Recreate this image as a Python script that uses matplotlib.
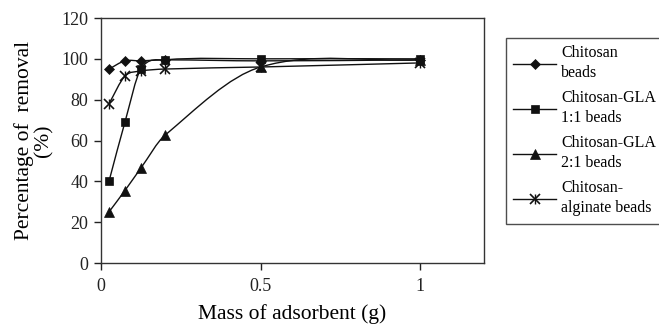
import numpy as np
import matplotlib.pyplot as plt
from matplotlib.path import Path
from matplotlib.patches import PathPatch
from matplotlib.lines import Line2D

plt.rcParams['font.family'] = ['Liberation Serif', 'DejaVu Serif']

# data
mass = [0.025, 0.075, 0.125, 0.2, 0.5, 1.0]
chitosan = [95, 99, 99, 99.5, 99, 99.5]
gla_11 = [40, 69, 95, 99.5, 100, 100]
gla_21 = [25, 35.5, 46.5, 62.5, 96, 99.5]
alginate = [78, 91.5, 94, 95, 96, 98]

labels = ['Chitosan\nbeads', 'Chitosan-GLA\n1:1 beads', 'Chitosan-GLA\n2:1 beads',
          'Chitosan-\nalginate beads']
markers = ['D', 's', '^', 'x']
msizes = [5.5, 6, 6.5, 7]
series = [chitosan, gla_11, gla_21, alginate]


def smooth_path(xs, ys):
    # smoothed line (cubic hermite -> bezier) through the points
    x = np.asarray(xs, float)
    y = np.asarray(ys, float)
    n = len(x)
    m = np.zeros(n)
    m[0] = (y[1] - y[0]) / (x[1] - x[0])
    m[-1] = (y[-1] - y[-2]) / (x[-1] - x[-2])
    for i in range(1, n - 1):
        m[i] = (y[i + 1] - y[i - 1]) / (x[i + 1] - x[i - 1])
    verts = [(x[0], y[0])]
    codes = [Path.MOVETO]
    for i in range(n - 1):
        h = x[i + 1] - x[i]
        verts += [(x[i] + h / 3, y[i] + m[i] * h / 3),
                  (x[i + 1] - h / 3, y[i + 1] - m[i + 1] * h / 3),
                  (x[i + 1], y[i + 1])]
        codes += [Path.CURVE4] * 3
    return Path(verts, codes)


fig = plt.figure(figsize=(6.59, 3.24), dpi=100)
ax = fig.add_axes([101 / 659, 1 - 263 / 324, 383 / 659, 245 / 324])

c = '#111111'
handles = []
for ys, m, ms, lab in zip(series, markers, msizes, labels):
    ax.add_patch(PathPatch(smooth_path(mass, ys), fill=False, edgecolor=c, lw=1))
    ax.plot(mass, ys, ls='none', marker=m, ms=ms, color=c, mew=1.2 if m == 'x' else 0.5)
    h = Line2D([], [], color=c, lw=1, marker=m, ms=ms, mew=1.2 if m == 'x' else 0.5)
    if m == 'x':
        # asterisk = x plus a vertical bar
        ax.plot(mass, ys, ls='none', marker='|', ms=ms, color=c, mew=1.0)
        h = (h, Line2D([], [], ls='none', marker='|', ms=ms, color=c, mew=1.0))
    handles.append(h)

ax.set_xlim(0, 1.2)
ax.set_ylim(0, 120)
ax.set_xticks([0, 0.5, 1])
ax.set_xticklabels(['0', '0.5', '1'])
ax.set_yticks(range(0, 121, 20))
ax.tick_params(direction='out', length=5, width=1, labelsize=13, colors='#222222', pad=4)
ax.tick_params(axis='x', pad=6)
for s in ax.spines.values():
    s.set_color('#333333')
    s.set_linewidth(1)

ax.set_xlabel('Mass of adsorbent (g)', fontsize=15.5, labelpad=6)
ax.set_ylabel('Percentage of  removal\n(%)', fontsize=15.5, labelpad=6, linespacing=1.0)

leg = fig.legend(handles, labels, loc='upper left', bbox_to_anchor=(506 / 659, 1 - 38 / 324),
                 fontsize=11.5, frameon=True, fancybox=False, edgecolor='#222222',
                 handlelength=2.7, handletextpad=0.3, borderpad=0.45, labelspacing=0.55,
                 borderaxespad=0)
leg.get_frame().set_linewidth(1)
for t in leg.get_texts():
    t.set_linespacing(1.35)

fig.savefig('out.png', dpi=100)
